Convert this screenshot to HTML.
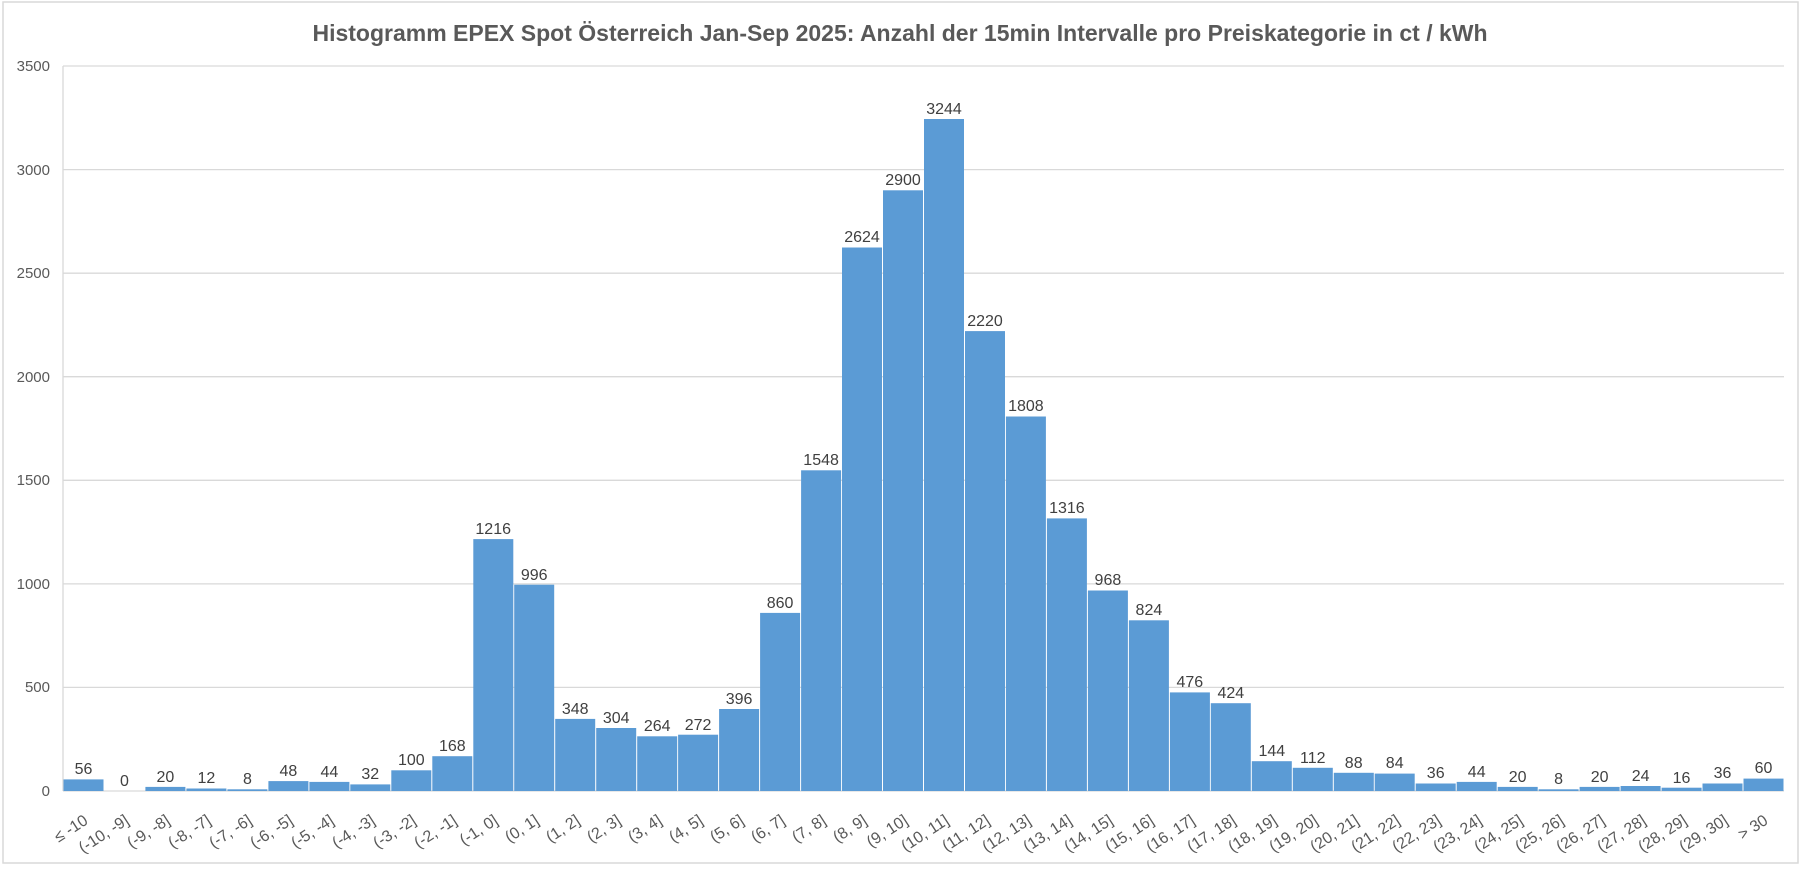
<!DOCTYPE html>
<html><head><meta charset="utf-8"><style>
html,body{margin:0;padding:0;background:#fff;}
svg{display:block;font-family:"Liberation Sans","DejaVu Sans",sans-serif;}
.d{font-size:16px;fill:#404040;text-anchor:middle;}
.y{font-size:15px;fill:#595959;text-anchor:end;}
.x{font-size:16px;fill:#595959;text-anchor:end;}
</style></head><body>
<svg width="1803" height="869" viewBox="0 0 1803 869">
<rect x="3" y="2" width="1795" height="861" fill="#fff" stroke="#d9d9d9" stroke-width="1.5"/>
<text x="900" y="41" text-anchor="middle" font-size="23" font-weight="bold" fill="#595959">Histogramm EPEX Spot Österreich Jan-Sep 2025: Anzahl der 15min Intervalle pro Preiskategorie in ct / kWh</text>
<g stroke="#d9d9d9" stroke-width="1.3">
<line x1="63" y1="66" x2="1784" y2="66"/><line x1="63" y1="169.6" x2="1784" y2="169.6"/><line x1="63" y1="273.2" x2="1784" y2="273.2"/><line x1="63" y1="376.7" x2="1784" y2="376.7"/><line x1="63" y1="480.3" x2="1784" y2="480.3"/><line x1="63" y1="583.9" x2="1784" y2="583.9"/><line x1="63" y1="687.4" x2="1784" y2="687.4"/><line x1="63" y1="791" x2="1784" y2="791"/>
<line x1="63" y1="66" x2="63" y2="791"/>
</g>
<g class="y">
<text class="y" x="50" y="71">3500</text><text class="y" x="50" y="175">3000</text><text class="y" x="50" y="278">2500</text><text class="y" x="50" y="382">2000</text><text class="y" x="50" y="485">1500</text><text class="y" x="50" y="589">1000</text><text class="y" x="50" y="692">500</text><text class="y" x="50" y="796">0</text>
</g>
<g fill="#5b9bd5">
<rect x="63.5" y="779.4" width="40" height="11.6"/>
<rect x="145.4" y="786.9" width="40" height="4.1"/>
<rect x="186.4" y="788.5" width="40" height="2.5"/>
<rect x="227.4" y="789.3" width="40" height="1.7"/>
<rect x="268.4" y="781.1" width="40" height="9.9"/>
<rect x="309.4" y="781.9" width="40" height="9.1"/>
<rect x="350.3" y="784.4" width="40" height="6.6"/>
<rect x="391.3" y="770.3" width="40" height="20.7"/>
<rect x="432.3" y="756.2" width="40" height="34.8"/>
<rect x="473.3" y="539.1" width="40" height="251.9"/>
<rect x="514.2" y="584.7" width="40" height="206.3"/>
<rect x="555.2" y="718.9" width="40" height="72.1"/>
<rect x="596.2" y="728.0" width="40" height="63.0"/>
<rect x="637.2" y="736.3" width="40" height="54.7"/>
<rect x="678.1" y="734.7" width="40" height="56.3"/>
<rect x="719.1" y="709.0" width="40" height="82.0"/>
<rect x="760.1" y="612.9" width="40" height="178.1"/>
<rect x="801.1" y="470.3" width="40" height="320.7"/>
<rect x="842.0" y="247.5" width="40" height="543.5"/>
<rect x="883.0" y="190.3" width="40" height="600.7"/>
<rect x="924.0" y="119.0" width="40" height="672.0"/>
<rect x="965.0" y="331.1" width="40" height="459.9"/>
<rect x="1005.9" y="416.5" width="40" height="374.5"/>
<rect x="1046.9" y="518.4" width="40" height="272.6"/>
<rect x="1087.9" y="590.5" width="40" height="200.5"/>
<rect x="1128.9" y="620.3" width="40" height="170.7"/>
<rect x="1169.9" y="692.4" width="40" height="98.6"/>
<rect x="1210.8" y="703.2" width="40" height="87.8"/>
<rect x="1251.8" y="761.2" width="40" height="29.8"/>
<rect x="1292.8" y="767.8" width="40" height="23.2"/>
<rect x="1333.8" y="772.8" width="40" height="18.2"/>
<rect x="1374.7" y="773.6" width="40" height="17.4"/>
<rect x="1415.7" y="783.5" width="40" height="7.5"/>
<rect x="1456.7" y="781.9" width="40" height="9.1"/>
<rect x="1497.7" y="786.9" width="40" height="4.1"/>
<rect x="1538.6" y="789.3" width="40" height="1.7"/>
<rect x="1579.6" y="786.9" width="40" height="4.1"/>
<rect x="1620.6" y="786.0" width="40" height="5.0"/>
<rect x="1661.6" y="787.7" width="40" height="3.3"/>
<rect x="1702.5" y="783.5" width="40" height="7.5"/>
<rect x="1743.5" y="778.6" width="40" height="12.4"/>
</g>
<g>
<text class="d" x="83.5" y="774">56</text>
<text class="d" x="124.5" y="786">0</text>
<text class="d" x="165.4" y="782">20</text>
<text class="d" x="206.4" y="783">12</text>
<text class="d" x="247.4" y="784">8</text>
<text class="d" x="288.4" y="776">48</text>
<text class="d" x="329.4" y="777">44</text>
<text class="d" x="370.3" y="779">32</text>
<text class="d" x="411.3" y="765">100</text>
<text class="d" x="452.3" y="751">168</text>
<text class="d" x="493.2" y="534">1216</text>
<text class="d" x="534.2" y="580">996</text>
<text class="d" x="575.2" y="714">348</text>
<text class="d" x="616.2" y="723">304</text>
<text class="d" x="657.2" y="731">264</text>
<text class="d" x="698.1" y="730">272</text>
<text class="d" x="739.1" y="704">396</text>
<text class="d" x="780.1" y="608">860</text>
<text class="d" x="821.1" y="465">1548</text>
<text class="d" x="862.0" y="242">2624</text>
<text class="d" x="903.0" y="185">2900</text>
<text class="d" x="944.0" y="114">3244</text>
<text class="d" x="985.0" y="326">2220</text>
<text class="d" x="1025.9" y="411">1808</text>
<text class="d" x="1066.9" y="513">1316</text>
<text class="d" x="1107.9" y="585">968</text>
<text class="d" x="1148.9" y="615">824</text>
<text class="d" x="1189.8" y="687">476</text>
<text class="d" x="1230.8" y="698">424</text>
<text class="d" x="1271.8" y="756">144</text>
<text class="d" x="1312.8" y="763">112</text>
<text class="d" x="1353.7" y="768">88</text>
<text class="d" x="1394.7" y="768">84</text>
<text class="d" x="1435.7" y="778">36</text>
<text class="d" x="1476.7" y="777">44</text>
<text class="d" x="1517.6" y="782">20</text>
<text class="d" x="1558.6" y="784">8</text>
<text class="d" x="1599.6" y="782">20</text>
<text class="d" x="1640.6" y="781">24</text>
<text class="d" x="1681.5" y="783">16</text>
<text class="d" x="1722.5" y="778">36</text>
<text class="d" x="1763.5" y="773">60</text>
</g>
<g>
<text class="x" transform="translate(89,823) rotate(-33)">≤ -10</text>
<text class="x" transform="translate(130,823) rotate(-33)">(-10, -9]</text>
<text class="x" transform="translate(171,823) rotate(-33)">(-9, -8]</text>
<text class="x" transform="translate(212,823) rotate(-33)">(-8, -7]</text>
<text class="x" transform="translate(253,823) rotate(-33)">(-7, -6]</text>
<text class="x" transform="translate(294,823) rotate(-33)">(-6, -5]</text>
<text class="x" transform="translate(335,823) rotate(-33)">(-5, -4]</text>
<text class="x" transform="translate(376,823) rotate(-33)">(-4, -3]</text>
<text class="x" transform="translate(417,823) rotate(-33)">(-3, -2]</text>
<text class="x" transform="translate(458,823) rotate(-33)">(-2, -1]</text>
<text class="x" transform="translate(499,823) rotate(-33)">(-1, 0]</text>
<text class="x" transform="translate(540,823) rotate(-33)">(0, 1]</text>
<text class="x" transform="translate(581,823) rotate(-33)">(1, 2]</text>
<text class="x" transform="translate(622,823) rotate(-33)">(2, 3]</text>
<text class="x" transform="translate(663,823) rotate(-33)">(3, 4]</text>
<text class="x" transform="translate(704,823) rotate(-33)">(4, 5]</text>
<text class="x" transform="translate(745,823) rotate(-33)">(5, 6]</text>
<text class="x" transform="translate(786,823) rotate(-33)">(6, 7]</text>
<text class="x" transform="translate(827,823) rotate(-33)">(7, 8]</text>
<text class="x" transform="translate(868,823) rotate(-33)">(8, 9]</text>
<text class="x" transform="translate(909,823) rotate(-33)">(9, 10]</text>
<text class="x" transform="translate(950,823) rotate(-33)">(10, 11]</text>
<text class="x" transform="translate(991,823) rotate(-33)">(11, 12]</text>
<text class="x" transform="translate(1032,823) rotate(-33)">(12, 13]</text>
<text class="x" transform="translate(1073,823) rotate(-33)">(13, 14]</text>
<text class="x" transform="translate(1114,823) rotate(-33)">(14, 15]</text>
<text class="x" transform="translate(1155,823) rotate(-33)">(15, 16]</text>
<text class="x" transform="translate(1196,823) rotate(-33)">(16, 17]</text>
<text class="x" transform="translate(1237,823) rotate(-33)">(17, 18]</text>
<text class="x" transform="translate(1278,823) rotate(-33)">(18, 19]</text>
<text class="x" transform="translate(1319,823) rotate(-33)">(19, 20]</text>
<text class="x" transform="translate(1360,823) rotate(-33)">(20, 21]</text>
<text class="x" transform="translate(1401,823) rotate(-33)">(21, 22]</text>
<text class="x" transform="translate(1442,823) rotate(-33)">(22, 23]</text>
<text class="x" transform="translate(1483,823) rotate(-33)">(23, 24]</text>
<text class="x" transform="translate(1524,823) rotate(-33)">(24, 25]</text>
<text class="x" transform="translate(1565,823) rotate(-33)">(25, 26]</text>
<text class="x" transform="translate(1606,823) rotate(-33)">(26, 27]</text>
<text class="x" transform="translate(1647,823) rotate(-33)">(27, 28]</text>
<text class="x" transform="translate(1688,823) rotate(-33)">(28, 29]</text>
<text class="x" transform="translate(1729,823) rotate(-33)">(29, 30]</text>
<text class="x" transform="translate(1769,823) rotate(-33)">&gt; 30</text>
</g>
</svg>
</body></html>
